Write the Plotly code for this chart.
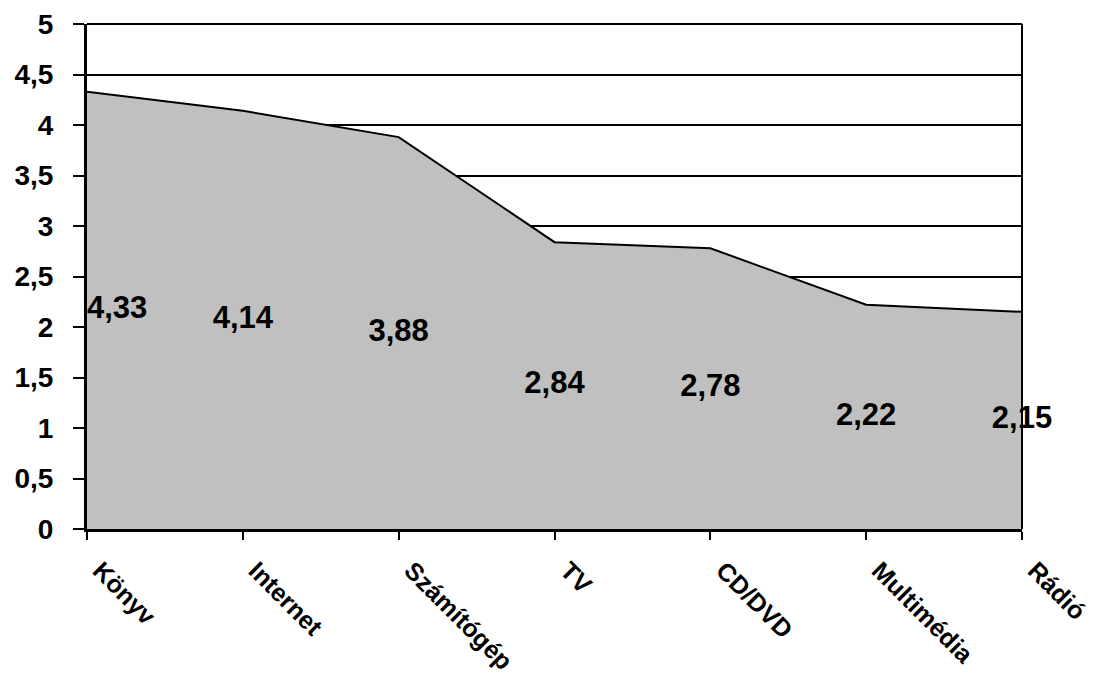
import plotly.graph_objects as go

categories = ["Könyv", "Internet", "Számítógép", "TV", "CD/DVD", "Multimédia", "Rádió"]
values = [4.33, 4.14, 3.88, 2.84, 2.78, 2.22, 2.15]
y_ticks = [0, 0.5, 1, 1.5, 2, 2.5, 3, 3.5, 4, 4.5, 5]

FONT = "Arial, Liberation Sans, sans-serif"
xs = list(range(len(categories)))

fig = go.Figure()
fig.add_trace(go.Scatter(
    x=xs, y=values, mode="lines", fill="tozeroy",
    fillcolor="#C0C0C0", line=dict(color="black", width=2),
    hoverinfo="skip", showlegend=False,
))
labels = [f"{v:.2f}".replace(".", ",") for v in values]
positions = ["middle right"] + ["middle center"] * (len(values) - 1)
fig.add_trace(go.Scatter(
    x=xs, y=[v / 2 for v in values], mode="text", text=labels,
    textposition=positions, cliponaxis=False,
    textfont=dict(family=FONT, size=31, color="black", weight="bold"),
    hoverinfo="skip", showlegend=False,
))

# top and right frame lines
fig.add_shape(type="line", xref="x domain", yref="y domain", x0=1, x1=1, y0=0, y1=1,
              line=dict(color="black", width=2))
fig.add_shape(type="line", xref="x domain", yref="y domain", x0=0, x1=1, y0=1, y1=1,
              line=dict(color="black", width=2))

fig.update_layout(
    width=1098, height=679,
    margin=dict(l=79, r=84, t=16, b=158),
    paper_bgcolor="white", plot_bgcolor="white",
    separators=",.",
    font=dict(family=FONT, color="black"),
    xaxis=dict(
        range=[0, len(categories) - 1], tickvals=xs, ticktext=categories,
        tickangle=45, ticks="outside", ticklen=8, tickwidth=2, tickcolor="black",
        showline=True, linewidth=3, linecolor="black", showgrid=False, zeroline=False,
        automargin=False, ticklabelshift=13, ticklabelstandoff=6,
        tickfont=dict(family=FONT, size=25, color="black", weight="bold"),
    ),
    yaxis=dict(
        range=[0, 5], tickvals=y_ticks, ticks="outside", ticklen=11, tickwidth=2,
        tickcolor="black", showline=True, linewidth=3, linecolor="black",
        showgrid=True, gridcolor="black", gridwidth=2, zeroline=False,
        ticklabelstandoff=14, automargin=False,
        tickfont=dict(family=FONT, size=28, color="black", weight="bold"),
    ),
)

fig.write_html("out.html")
